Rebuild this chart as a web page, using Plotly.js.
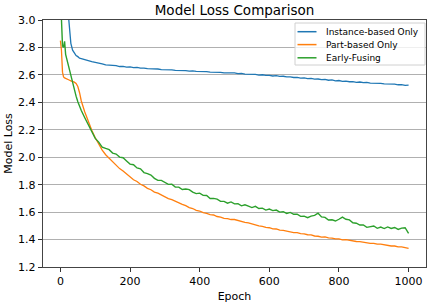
<!DOCTYPE html>
<html>
<head>
<meta charset="utf-8">
<script src="https://cdn.plot.ly/plotly-3.0.1.min.js"></script>
<style>html,body{margin:0;padding:0;background:#fff;}#chart{width:428px;height:303px;}</style>
</head>
<body>
<div id="chart"></div>
<script>
var epochs = [0,3,6,9,12,15,20,25,30,35,40,45,50,55,60,
70,80,90,100,110,120,130,140,150,160,170,180,190,200,
210,220,230,240,250,260,270,280,290,300,310,320,330,340,350,360,370,380,390,400,
410,420,430,440,450,460,470,480,490,500,510,520,530,540,550,560,570,580,590,600,
610,620,630,640,650,660,670,680,690,700,710,720,730,740,750,760,770,780,790,800,
810,820,830,840,850,860,870,880,890,900,910,920,930,940,950,960,970,980,990,1000];

var instanceOnly = [4.5,4.2,3.9,3.65,3.45,3.3,3.12,2.96,2.83,2.78,2.757,2.741,2.733,2.722,2.719,
2.709,2.704,2.696,2.692,2.683,2.681,2.673,2.672,2.666,2.667,2.661,2.662,2.657,2.658,
2.653,2.654,2.649,2.650,2.645,2.646,2.642,2.643,2.639,2.640,2.636,2.637,2.633,2.634,2.630,2.631,2.627,2.629,2.625,2.626,
2.622,2.624,2.620,2.621,2.617,2.619,2.615,2.616,2.612,2.614,2.609,2.611,2.606,2.607,2.603,2.604,2.599,2.601,2.596,2.597,
2.592,2.594,2.589,2.590,2.585,2.586,2.581,2.582,2.577,2.578,2.573,2.574,2.569,2.570,2.565,2.567,2.561,2.563,2.557,2.559,
2.553,2.555,2.550,2.551,2.546,2.548,2.543,2.545,2.540,2.541,2.537,2.538,2.534,2.535,2.531,2.532,2.528,2.529,2.524,2.526];

var partOnly = [2.85,2.78,2.62,2.585,2.578,2.573,2.567,2.563,2.557,2.554,2.547,2.537,2.515,2.47,2.41,
2.33,2.262,2.197,2.142,2.092,2.052,2.018,1.992,1.963,1.943,1.917,1.899,1.876,1.858,
1.836,1.823,1.803,1.791,1.773,1.763,1.746,1.738,1.723,1.713,1.698,1.691,1.678,1.671,1.657,1.647,1.633,1.626,1.613,1.608,
1.596,1.591,1.582,1.579,1.568,1.564,1.555,1.553,1.546,1.546,1.538,1.534,1.525,1.521,1.513,1.509,1.500,1.496,1.488,1.486,
1.478,1.477,1.468,1.467,1.460,1.458,1.451,1.450,1.443,1.442,1.435,1.434,1.426,1.424,1.418,1.419,1.412,1.411,1.405,1.405,
1.398,1.399,1.393,1.392,1.386,1.385,1.379,1.378,1.372,1.372,1.366,1.366,1.360,1.359,1.353,1.353,1.346,1.346,1.340,1.335];

var earlyFusing = [3.2,2.95,2.81,2.80,2.845,2.75,2.70,2.635,2.58,2.535,2.485,2.445,2.405,2.37,2.34,
2.288,2.234,2.189,2.137,2.110,2.074,2.064,2.055,2.030,2.023,2.001,1.996,1.973,1.950,
1.945,1.922,1.915,1.888,1.880,1.870,1.846,1.831,1.831,1.816,1.802,1.804,1.782,1.782,1.765,1.768,1.764,1.746,1.735,1.738,
1.722,1.721,1.699,1.700,1.695,1.678,1.678,1.665,1.674,1.660,1.662,1.646,1.653,1.644,1.633,1.642,1.626,1.629,1.615,1.622,
1.611,1.615,1.600,1.603,1.590,1.598,1.584,1.585,1.569,1.571,1.559,1.571,1.576,1.592,1.565,1.562,1.542,1.544,1.535,1.548,
1.564,1.548,1.543,1.522,1.519,1.506,1.506,1.489,1.493,1.499,1.482,1.491,1.480,1.492,1.481,1.488,1.474,1.483,1.486,1.445];

var seriesNames = ["Instance-based Only", "Part-based Only", "Early-Fusing"];
var xTicks = [0, 200, 400, 600, 800, 1000];
var yTicks = [1.2, 1.4, 1.6, 1.8, 2.0, 2.2, 2.4, 2.6, 2.8, 3.0];

var colors = ["#1f77b4", "#ff7f0e", "#2ca02c"];
var widths = [1.3, 1.3, 1.4];
var seriesValues = [instanceOnly, partOnly, earlyFusing];
var traces = seriesValues.map(function (vals, i) {
  return {
    x: epochs, y: vals, type: "scatter", mode: "lines", name: seriesNames[i],
    line: {color: colors[i], width: widths[i]}, showlegend: false
  };
});

/* legend drawn as a compact box (matplotlib-style spacing) */
var plotL = 43, plotT = 20, plotW = 383, plotH = 247;
function px2x(p) { return (p - plotL) / plotW; }
function px2y(p) { return 1 - (p - plotT) / plotH; }
var rowY = [31.7, 44.6, 57.8];
var shapes = [{
  type: "rect", xref: "paper", yref: "paper", layer: "above",
  x0: px2x(295), x1: px2x(425), y0: px2y(65), y1: px2y(23),
  fillcolor: "rgba(255,255,255,0.8)", line: {color: "#d0d0d0", width: 1}
}];
var annotations = [];
seriesNames.forEach(function (name, i) {
  shapes.push({type: "line", xref: "paper", yref: "paper", layer: "above",
    x0: px2x(297.5), x1: px2x(316.5), y0: px2y(rowY[i]), y1: px2y(rowY[i]),
    line: {color: colors[i], width: 1.5}});
  annotations.push({xref: "paper", yref: "paper", x: px2x(323.5), y: px2y(rowY[i]),
    xanchor: "left", yanchor: "middle", showarrow: false, text: name,
    font: {family: "DejaVu Sans, sans-serif", size: 9, color: "#000"}});
});

var font = "DejaVu Sans, sans-serif";
var layout = {
  width: 428, height: 303,
  margin: {l: 43, r: 2, t: 20, b: 36},
  paper_bgcolor: "#fff", plot_bgcolor: "#fff",
  font: {family: font, size: 11, color: "#000"},
  title: {text: "Model Loss Comparison", font: {family: font, size: 13.5, color: "#000"},
    x: 0.5, xref: "paper", xanchor: "center", y: 1 - 10/303, yref: "container", yanchor: "middle"},
  showlegend: false,
  shapes: shapes,
  annotations: annotations,
  xaxis: {
    range: [-50, 1050], tickmode: "array", tickvals: xTicks, ticktext: xTicks.map(String),
    ticks: "outside", ticklen: 4, tickwidth: 1, tickcolor: "#333",
    showline: true, linecolor: "#444", linewidth: 1.2, mirror: true,
    showgrid: false, zeroline: false,
    title: {text: "Epoch", font: {family: font, size: 11, color: "#000"}, standoff: 5}
  },
  yaxis: {
    range: [1.2, 3.0], tickmode: "array", tickvals: yTicks, ticktext: yTicks.map(function(v){return v.toFixed(1);}),
    ticks: "outside", ticklen: 4, tickwidth: 1, tickcolor: "#333",
    showline: true, linecolor: "#444", linewidth: 1.2, mirror: true,
    showgrid: true, gridcolor: "#b0b0b0", gridwidth: 1.2, zeroline: false,
    title: {text: "Model Loss", font: {family: font, size: 11, color: "#000"}, standoff: 3}
  }
};

Plotly.newPlot("chart", traces, layout, {displayModeBar: false, staticPlot: true});
</script>
</body>
</html>
